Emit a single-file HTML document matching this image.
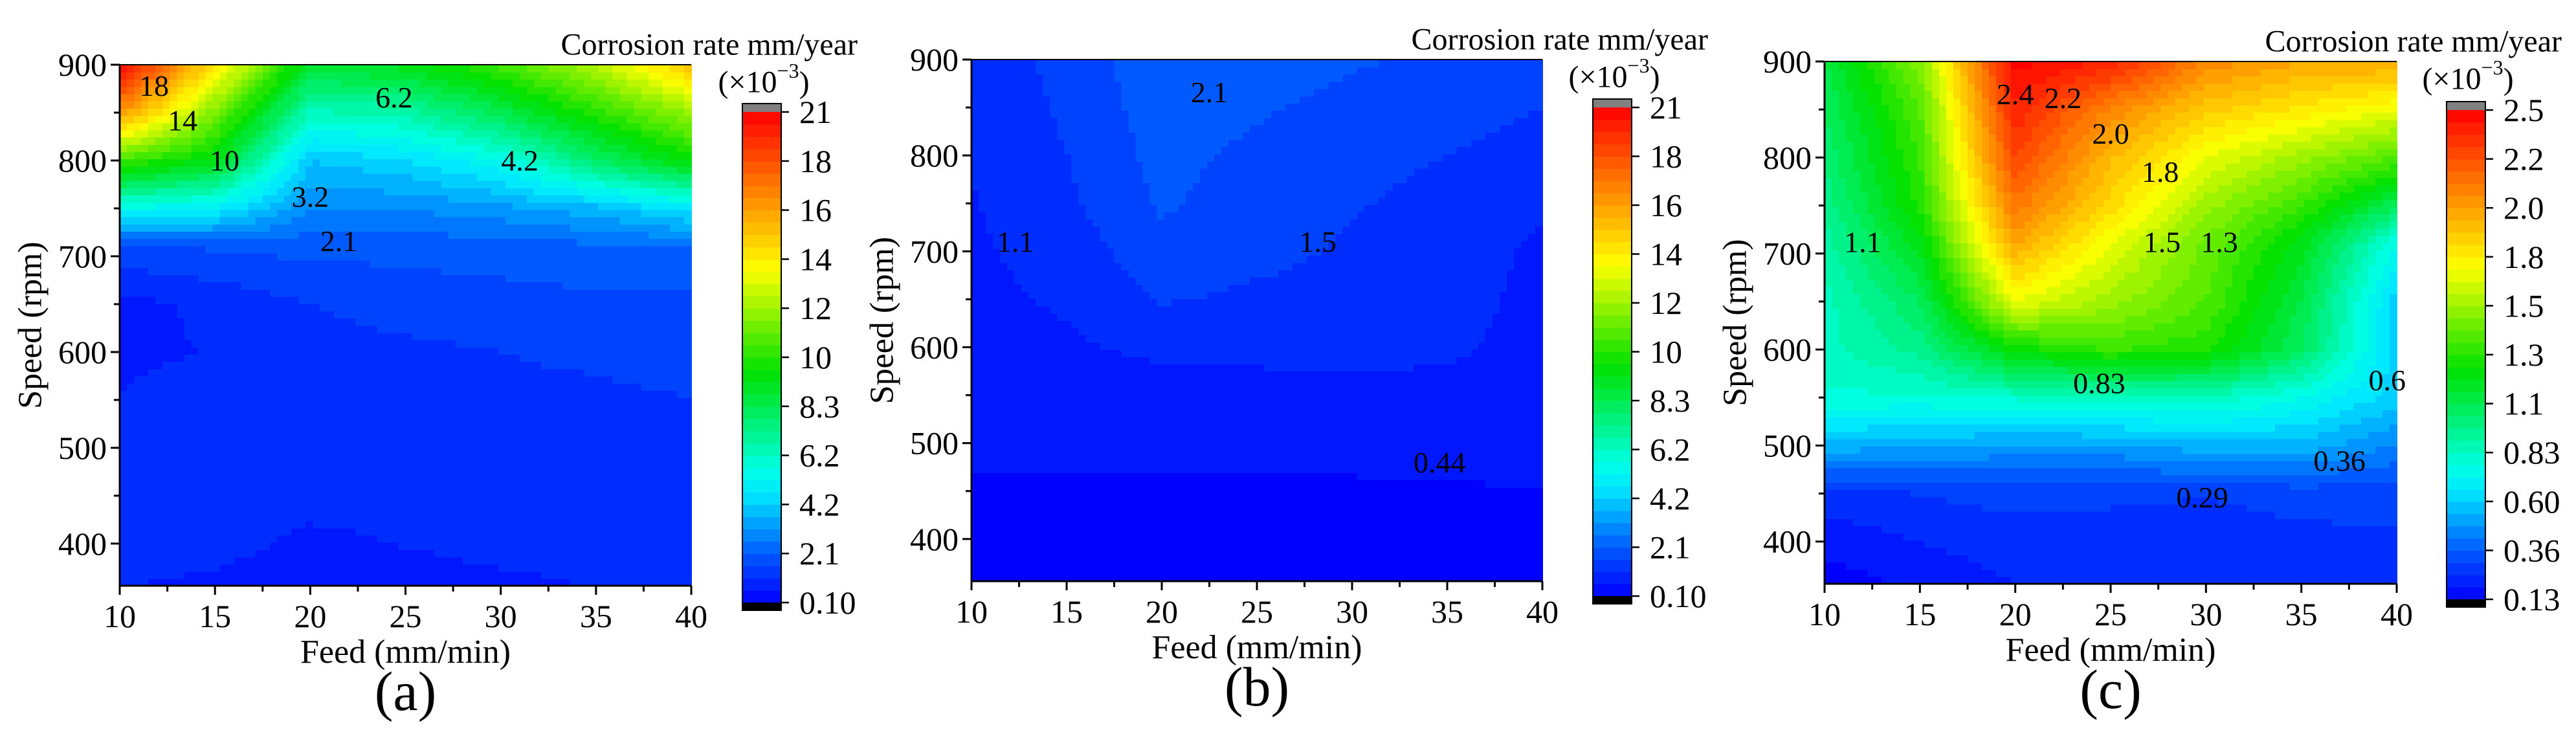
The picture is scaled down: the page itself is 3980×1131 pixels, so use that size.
<!DOCTYPE html>
<html><head><meta charset="utf-8"><style>
html,body{margin:0;padding:0;background:#fff;width:3980px;height:1131px;overflow:hidden}
svg{display:block}
svg text, svg tspan{font-family:"Liberation Serif","DejaVu Serif",serif !important;fill:#000}
</style></head><body>
<svg id="fig" width="3980" height="1131" viewBox="0 0 3980 1131" font-family="Liberation Serif, DejaVu Serif, serif" xmlns="http://www.w3.org/2000/svg"></svg>
<script>
// ---- data ----
const feeds = [10,15,20,25,30,35,40];
const speeds = [356,400,450,500,550,600,650,710,750,800,850,900];
const xTicks = [10,15,20,25,30,35,40];
const yTicks = [400,500,600,700,800,900];
const rateA = [
 [0.9,0.8,0.7,0.7,0.8,0.9,1.0],
 [1.1,1.0,0.8,0.9,1.0,1.0,1.1],
 [1.2,1.1,1.0,1.0,1.0,1.0,1.2],
 [1.1,1.0,1.0,1.1,1.1,1.2,1.1],
 [0.9,1.1,1.2,1.3,1.3,1.3,1.4],
 [0.8,0.9,1.2,1.3,1.4,1.5,1.6],
 [0.7,1.0,1.4,1.6,1.7,1.8,1.8],
 [1.8,2.0,2.1,2.1,2.2,2.3,2.4],
 [5.5,5.0,3.0,3.0,3.3,3.8,4.8],
 [11.0,9.5,4.0,4.5,5.5,8.0,10.0],
 [17,12,6.5,6.8,8.5,10.5,12.5],
 [21,15,9,9.5,11,13,16]
];
const rateB = [
 [0.3,0.3,0.3,0.3,0.3,0.3,0.3],
 [0.3,0.3,0.3,0.3,0.3,0.3,0.3],
 [0.32,0.32,0.32,0.32,0.32,0.33,0.35],
 [0.45,0.45,0.45,0.45,0.45,0.47,0.5],
 [0.6,0.6,0.65,0.65,0.75,0.75,0.7],
 [0.7,0.8,1.0,1.05,1.05,0.95,0.75],
 [0.75,0.95,1.45,1.3,1.25,1.05,0.75],
 [0.8,1.15,1.8,1.6,1.35,1.15,0.8],
 [0.85,1.3,2.0,1.65,1.45,1.25,1.0],
 [0.9,1.4,2.1,1.8,1.55,1.4,1.2],
 [0.95,1.5,2.2,2.0,1.75,1.6,1.4],
 [1.0,1.6,2.3,2.2,2.0,1.8,1.7]
];
const rateC = [
 [0.13,0.17,0.22,0.22,0.22,0.24,0.25],
 [0.18,0.22,0.25,0.25,0.25,0.26,0.27],
 [0.25,0.28,0.3,0.29,0.28,0.3,0.3],
 [0.55,0.52,0.5,0.5,0.55,0.55,0.45],
 [0.8,0.8,0.82,0.85,0.85,0.75,0.6],
 [0.85,0.95,1.25,1.35,1.3,1.05,0.6],
 [0.85,1.05,1.7,1.55,1.4,1.1,0.6],
 [0.9,1.2,2.0,1.7,1.45,1.2,0.75],
 [0.95,1.3,2.15,1.85,1.55,1.35,1.05],
 [1.0,1.35,2.3,1.95,1.7,1.55,1.4],
 [1.05,1.4,2.4,2.1,1.9,1.8,1.7],
 [1.1,1.5,2.5,2.4,2.1,2.0,2.0]
];
const cbTicksAB = ["0.10","2.1","4.2","6.2","8.3","10","12","14","16","18","21"];
const cbTicksC = ["0.13","0.36","0.60","0.83","1.1","1.3","1.5","1.8","2.0","2.2","2.5"];
const labelsA = [["18",11.8,878],["14",13.3,842],["10",15.5,800],["6.2",24.4,866],["4.2",31.0,800],["3.2",20.0,762],["2.1",21.5,716]];
const labelsB = [["2.1",22.5,866],["1.1",12.3,710],["1.5",28.2,710],["0.44",34.6,480]];
const labelsC = [["2.4",20.0,866],["2.2",22.5,862],["2.0",25.0,825],["1.8",27.6,785],["1.1",12.0,712],["1.5",27.7,712],["1.3",30.7,712],["0.83",24.4,565],["0.6",39.5,568],["0.36",37.0,484],["0.29",29.8,446]];

const NS = "http://www.w3.org/2000/svg";
const svg = document.getElementById('fig');
function mk(tag, attrs, parent){const e=document.createElementNS(NS,tag);for(const k in attrs)e.setAttribute(k,attrs[k]);if(tag==='text')e.setAttribute('font-family','Liberation Serif, serif');(parent||svg).appendChild(e);return e;}

const stops=[[0,[0,0,255]],[0.1,[0,90,255]],[0.22,[0,230,255]],[0.27,[0,255,230]],[0.47,[0,225,0]],[0.68,[255,255,0]],[0.85,[255,120,0]],[1,[255,0,0]]];
function cmap(t){t=Math.max(0,Math.min(1,t));for(let i=1;i<stops.length;i++){if(t<=stops[i][0]){const a=stops[i-1],b=stops[i];const f=(t-a[0])/(b[0]-a[0]);const c=a[1].map((v,j)=>Math.round(v+(b[1][j]-v)*f));return `rgb(${c[0]},${c[1]},${c[2]})`;}}return 'rgb(255,0,0)';}
function interp(grid,f,s){
  let i=0;while(i<feeds.length-2&&f>feeds[i+1])i++;
  let j=0;while(j<speeds.length-2&&s>speeds[j+1])j++;
  const u=(f-feeds[i])/(feeds[i+1]-feeds[i]), v=(s-speeds[j])/(speeds[j+1]-speeds[j]);
  return grid[j][i]*(1-u)*(1-v)+grid[j][i+1]*u*(1-v)+grid[j+1][i]*(1-u)*v+grid[j+1][i+1]*u*v;
}

function panel(p){
  const g=mk('g',{});
  
  
  const X=f=>p.L+(f-10)/30*(p.R-p.L);
  const Y=s=>p.B-(s-356)/(900-356)*(p.B-p.T);
  const levels=40;
  const N=80, M=72;
  const hm=mk('g',{'shape-rendering':'crispEdges'},g);
  
  
  for(let a=0;a<N;a++){for(let b=0;b<M;b++){
    const f0=10+30*a/N,f1=10+30*(a+1)/N,s0=356+544*b/M,s1=356+544*(b+1)/M;
    const val=interp(p.grid,(f0+f1)/2,(s0+s1)/2);
    let t=(val-p.vmin)/(p.vmax-p.vmin);t=Math.floor(Math.max(0,Math.min(0.999,t))*levels+0.5)/levels;
    const x0=X(f0),x1=X(f1),y0=Y(s1),y1=Y(s0);
    const r=mk('rect',{x:x0.toFixed(1),y:y0.toFixed(1),width:(x1-x0+0.8).toFixed(1),height:(y1-y0+0.8).toFixed(1),fill:cmap(t)},hm);
    
    
  }}
  p.labels.forEach(l=>{
    const t=mk('text',{x:X(l[1]),y:Y(l[2]),'font-size':46,'text-anchor':'middle','dominant-baseline':'central'},g);
    t.textContent=l[0];
    
    
  });
  const ax=mk('path',{d:`M${p.L},${p.T}V${p.B}H${p.R}`,stroke:'#000','stroke-width':3,fill:'none'},g);
  
  
  mk('line',{x1:p.L,y1:p.T,x2:p.R,y2:p.T,stroke:'#000','stroke-width':2},g);
  for(let f=10;f<=40;f+=2.5){const maj=(f%5===0);mk('line',{x1:X(f),y1:p.B,x2:X(f),y2:p.B+(maj?14:9),stroke:'#000','stroke-width':3},g);}
  xTicks.forEach(f=>{const t=mk('text',{x:X(f),y:p.B+64,'font-size':50,'text-anchor':'middle'},g);t.textContent=f;
    
    });
  for(let s=400;s<=900;s+=50){const maj=(s%100===0);mk('line',{x1:p.L,y1:Y(s),x2:p.L-(maj?14:9),y2:Y(s),stroke:'#000','stroke-width':3},g);}
  yTicks.forEach(s=>{const t=mk('text',{x:p.L-20,y:Y(s),'font-size':50,'text-anchor':'end','dominant-baseline':'central'},g);t.textContent=s;
    
    });
  const xt=mk('text',{x:(p.L+p.R)/2,y:p.B+119,'font-size':52,'text-anchor':'middle'},g);xt.textContent='Feed (mm/min)';
  
  
  const yc=(p.T+p.B)/2;
  const yt=mk('text',{x:p.L-138,y:yc,'font-size':52,'text-anchor':'middle','dominant-baseline':'central',transform:`rotate(-90 ${p.L-138} ${yc})`},g);yt.textContent='Speed (rpm)';
  
  
  const pl=mk('text',{x:(p.L+p.R)/2,y:p.B+163,'font-size':86,'text-anchor':'middle','dominant-baseline':'central'},g);pl.textContent='('+p.id+')';
  
  
  const cb=mk('g',{},g);
  
  
  const cx=p.cbx,cw=60,ctop=p.cbTop,cbot=p.cbBot;
  mk('rect',{x:cx,y:ctop-13,width:cw,height:13,fill:'#808080'},cb);
  const nb=levels;
  for(let k=0;k<nb;k++){const y0=cbot-(k+1)/nb*(cbot-ctop);mk('rect',{x:cx,y:y0,width:cw,height:(cbot-ctop)/nb+0.6,fill:cmap((k+0.5)/nb)},cb);}
  mk('rect',{x:cx,y:cbot,width:cw,height:12,fill:'#000'},cb);
  mk('rect',{x:cx,y:ctop-13,width:cw,height:cbot-ctop+25,fill:'none',stroke:'#000','stroke-width':2},cb);
  p.cbTicks.forEach((lab,k)=>{const y=cbot-k/(p.cbTicks.length-1)*(cbot-ctop);
    mk('line',{x1:cx+cw,y1:y,x2:cx+cw+12,y2:y,stroke:'#000','stroke-width':2.5},cb);
    const t=mk('text',{x:cx+cw+28,y:y,'font-size':50,'dominant-baseline':'central'},cb);t.textContent=lab;
    
    });
  const ct=mk('text',{x:cx+178,y:p.T-31,'font-size':48,'text-anchor':'end','dominant-baseline':'central'},g);ct.textContent='Corrosion rate mm/year';
  
  
  const cu=mk('text',{x:cx+33,y:p.T+27,'font-size':48,'text-anchor':'middle','dominant-baseline':'central'},g);
  cu.innerHTML='(×10<tspan dy="-18" font-size="32">−3</tspan><tspan dy="18">)</tspan>';
  
  
}
panel({id:'a',L:185,R:1068,T:100,B:905,grid:rateA,vmin:0.1,vmax:21,cbx:1147,cbTop:173,cbBot:931,cbTicks:cbTicksAB,labels:labelsA});
panel({id:'b',L:1501,R:2383,T:92,B:898,grid:rateB,vmin:0.1,vmax:21,cbx:2461,cbTop:166,cbBot:921,cbTicks:cbTicksAB,labels:labelsB});
panel({id:'c',L:2819,R:3703,T:95,B:902,grid:rateC,vmin:0.13,vmax:2.5,cbx:3780,cbTop:170,cbBot:926,cbTicks:cbTicksC,labels:labelsC});
</script>
</body></html>
